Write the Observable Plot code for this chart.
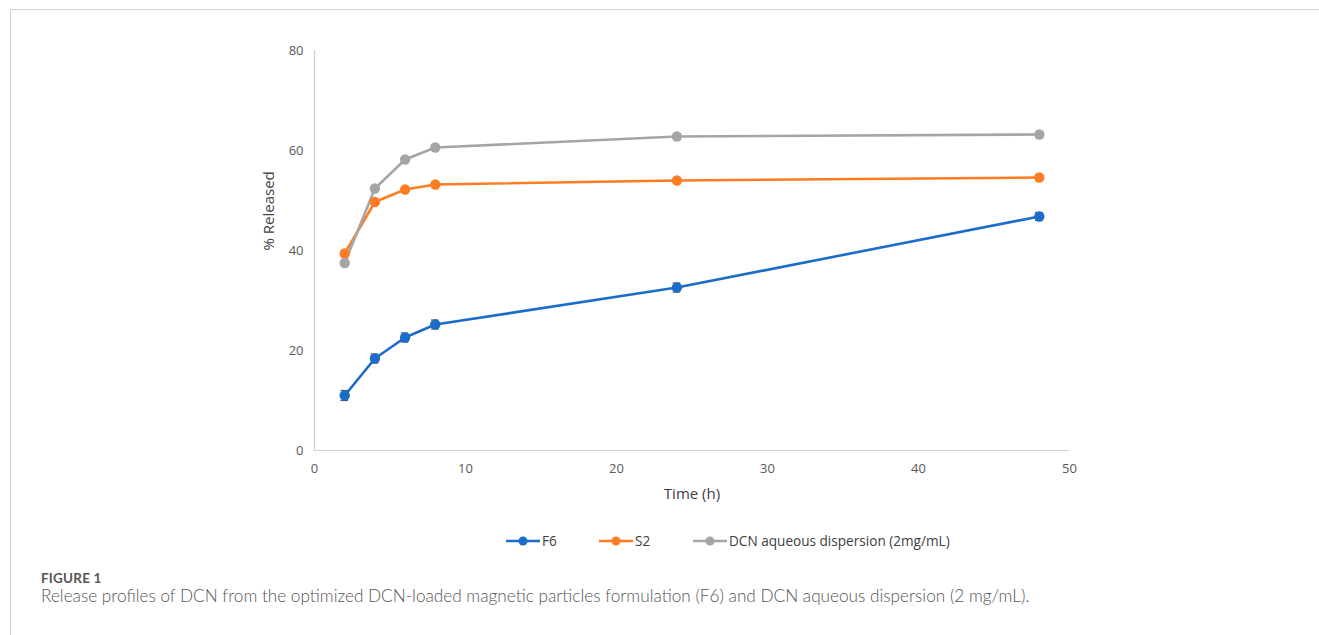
<!DOCTYPE html>
<html>
<head>
<meta charset="utf-8">
<script src="https://cdn.jsdelivr.net/npm/d3@7"></script>
<script src="https://cdn.jsdelivr.net/npm/@observablehq/plot@0.6"></script>
<style>
  body { margin: 0; background: #fff; }
  #wrap { position: relative; width: 1319px; height: 635px; overflow: hidden; font-family: "Open Sans", sans-serif; }
  #frame { position: absolute; left: 10px; top: 9px; right: 0; bottom: 0; border-top: 1.5px solid #d4d4d4; border-left: 1px solid #cfcfcf; }
  #chart { position: absolute; left: 0; top: 0; }
  #legend { position: absolute; left: 0; top: 528px; }
  #fig { position: absolute; left: 41px; top: 572px; line-height: 13px; font-family: Lato, sans-serif; font-weight: 700; font-size: 13.5px; color: #555; letter-spacing: 0.2px; }
  #cap { position: absolute; left: 41px; top: 587px; line-height: 17px; font-family: Lato, sans-serif; font-weight: 300; font-size: 17.2px; color: #555; white-space: nowrap; }
</style>
</head>
<body>
<div id="wrap">
  <div id="frame"></div>
  <div id="chart"></div>
  <div id="legend"></div>
  <div id="fig">FIGURE 1</div>
  <div id="cap">Release profiles of DCN from the optimized DCN-loaded magnetic particles formulation (F6) and DCN aqueous dispersion (2 mg/mL).</div>
</div>
<script>
const times = [2, 4, 6, 8, 24, 48];
const seriesNames = ["F6", "S2", "DCN aqueous dispersion (2mg/mL)"];
const seriesColors = ["#1c6dc9", "#ff7d22", "#a5a5a5"];
const f6Values = [11.0, 18.4, 22.6, 25.2, 32.6, 46.8];
const f6Errors = [1.0, 0.9, 0.9, 0.9, 0.9, 0.8];
const s2Values = [39.4, 49.7, 52.2, 53.2, 54.0, 54.6];
const dcnValues = [37.5, 52.4, 58.2, 60.6, 62.8, 63.2];
const xTicks = [0, 10, 20, 30, 40, 50];
const yTicks = [0, 20, 40, 60, 80];
const xLabel = "Time (h)";
const yLabel = "% Released";

const valuesBySeries = [f6Values, s2Values, dcnValues];
const rows = [];
seriesNames.forEach((s, i) => times.forEach((t, j) => rows.push({series: s, time: t, value: valuesBySeries[i][j]})));
const errRows = times.map((t, j) => ({time: t, value: f6Values[j], err: f6Errors[j]}));

const colorScale = {domain: seriesNames, range: seriesColors};
const axisColor = "#d0d0d0";
const tickColor = "#595959";

const chart = Plot.plot({
  width: 1319,
  height: 510,
  marginLeft: 314,
  marginRight: 250,
  marginTop: 50,
  marginBottom: 60,
  style: {fontFamily: "'Open Sans', sans-serif", fontSize: "13px", color: tickColor, background: "transparent"},
  x: {domain: [0, 50], ticks: xTicks},
  y: {domain: [0, 80], ticks: yTicks},
  color: colorScale,
  marks: [
    Plot.ruleY([0], {stroke: axisColor, strokeWidth: 1.2}),
    Plot.ruleX([0], {stroke: axisColor, strokeWidth: 1.2}),
    Plot.axisX({ticks: xTicks, tickSize: 0, tickPadding: 13, label: null, fontSize: 13}),
    Plot.axisY({ticks: yTicks, tickSize: 0, tickPadding: 11, label: null, fontSize: 13}),
    Plot.text([xLabel], {frameAnchor: "bottom", dy: 48, text: d => d, fontSize: 15, fill: "#404040"}),
    Plot.text([yLabel], {frameAnchor: "left", dx: -45, rotate: -90, text: d => d, fontSize: 15, fill: "#404040"}),
    Plot.lineY(rows, {x: "time", y: "value", z: "series", stroke: "series", strokeWidth: 2.6}),
    Plot.ruleX(errRows, {x: "time", y1: d => d.value - d.err, y2: d => d.value + d.err, stroke: "#555", strokeWidth: 1.2}),
    Plot.ruleY(errRows, {y: d => d.value - d.err, x1: d => d.time - 0.25, x2: d => d.time + 0.25, stroke: "#555", strokeWidth: 1.2}),
    Plot.ruleY(errRows, {y: d => d.value + d.err, x1: d => d.time - 0.25, x2: d => d.time + 0.25, stroke: "#555", strokeWidth: 1.2}),
    Plot.dot(rows, {x: "time", y: "value", fill: "series", r: 5.2})
  ]
});
document.getElementById("chart").appendChild(chart);

// Legend
const legendX = [506, 599, 693];
const legendSvg = d3.select("#legend").append("svg").attr("width", 1319).attr("height", 28)
  .style("font-family", "'Open Sans', sans-serif").style("font-size", "13.6px");
seriesNames.forEach((s, i) => {
  const g = legendSvg.append("g").attr("transform", `translate(${legendX[i]},13)`);
  g.append("line").attr("x1", 0).attr("x2", 34).attr("y1", 0).attr("y2", 0).attr("stroke", seriesColors[i]).attr("stroke-width", 2.6);
  g.append("circle").attr("cx", 17).attr("cy", 0).attr("r", 4.5).attr("fill", seriesColors[i]);
  g.append("text").attr("x", 36).attr("y", 0).attr("dy", "0.35em").attr("fill", "#404040").text(s);
});
</script>
</body>
</html>
